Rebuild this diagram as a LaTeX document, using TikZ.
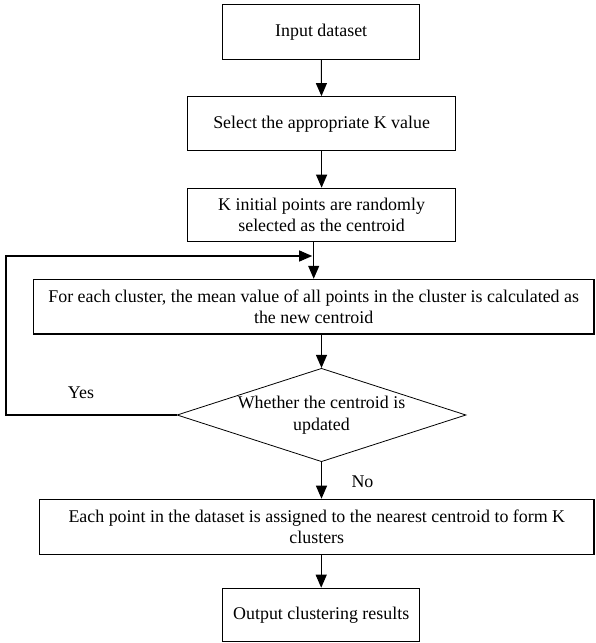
\documentclass[tikz,border=0pt]{standalone}
\usepackage{fontspec}
\setmainfont{Liberation Serif}
\usetikzlibrary{arrows.meta,shapes.geometric}
\begin{document}
\begin{tikzpicture}[x=1pt,y=-1pt,
  txt/.style={font=\fontsize{17.9}{21.7}\selectfont, align=center, inner sep=0pt},
  box/.style={txt, draw, line width=1.2pt, rectangle},
  dec/.style={draw, diamond, line width=0.8pt, aspect=3.09, inner sep=0pt},
  arr/.style={line width=1.1pt, -{Triangle[length=13pt,width=11pt]}}]
\useasboundingbox (0,0) rectangle (595,643);
\node[box, minimum width=197pt, minimum height=54.6pt] (b1) at (321.2,32) {Input dataset};
\node[box, minimum width=268pt, minimum height=54pt] (b2) at (321.6,123.7) {Select the appropriate K value};
\node[box, minimum width=268pt, minimum height=53.4pt] (b3) at (321.6,215) {K initial points are randomly\\selected as the centroid};
\node[box, minimum width=560.6pt, minimum height=54.7pt] (b4) at (313.7,306.7) {For each cluster, the mean value of all points in the cluster is calculated as\\the new centroid};
\node[dec, minimum width=289pt, minimum height=93.4pt] (d) at (321.5,415) {};
\node[txt] (dt) at (d.center) {Whether the centroid is\\updated};
\node[box, minimum width=554.5pt, minimum height=55pt] (b5) at (316.8,526.8) {Each point in the dataset is assigned to the nearest centroid to form K\\clusters};
\node[box, minimum width=197pt, minimum height=53.4pt] (b6) at (321.2,615) {Output clustering results};
\node[txt] (yes) at (81,393) {Yes};
\node[txt] (no) at (362.5,482) {No};
\coordinate (lp) at (6,256);
\draw[arr] (b1) -- (b2);
\draw[arr] (b2) -- (b3);
\draw[arr] (b3.south -| b4.north) -- (b4.north);
\draw[arr] (b4.south -| d.north) -- (d.north);
\draw[arr] (d.south) -- (d.south |- b5.north);
\draw[arr] (b5.south -| b6.north) -- (b6.north);
\draw[arr, shorten >=1.5pt] (d.west) -- (d.west -| lp) -- (lp) -- (lp -| b4.north);
\end{tikzpicture}
\end{document}
